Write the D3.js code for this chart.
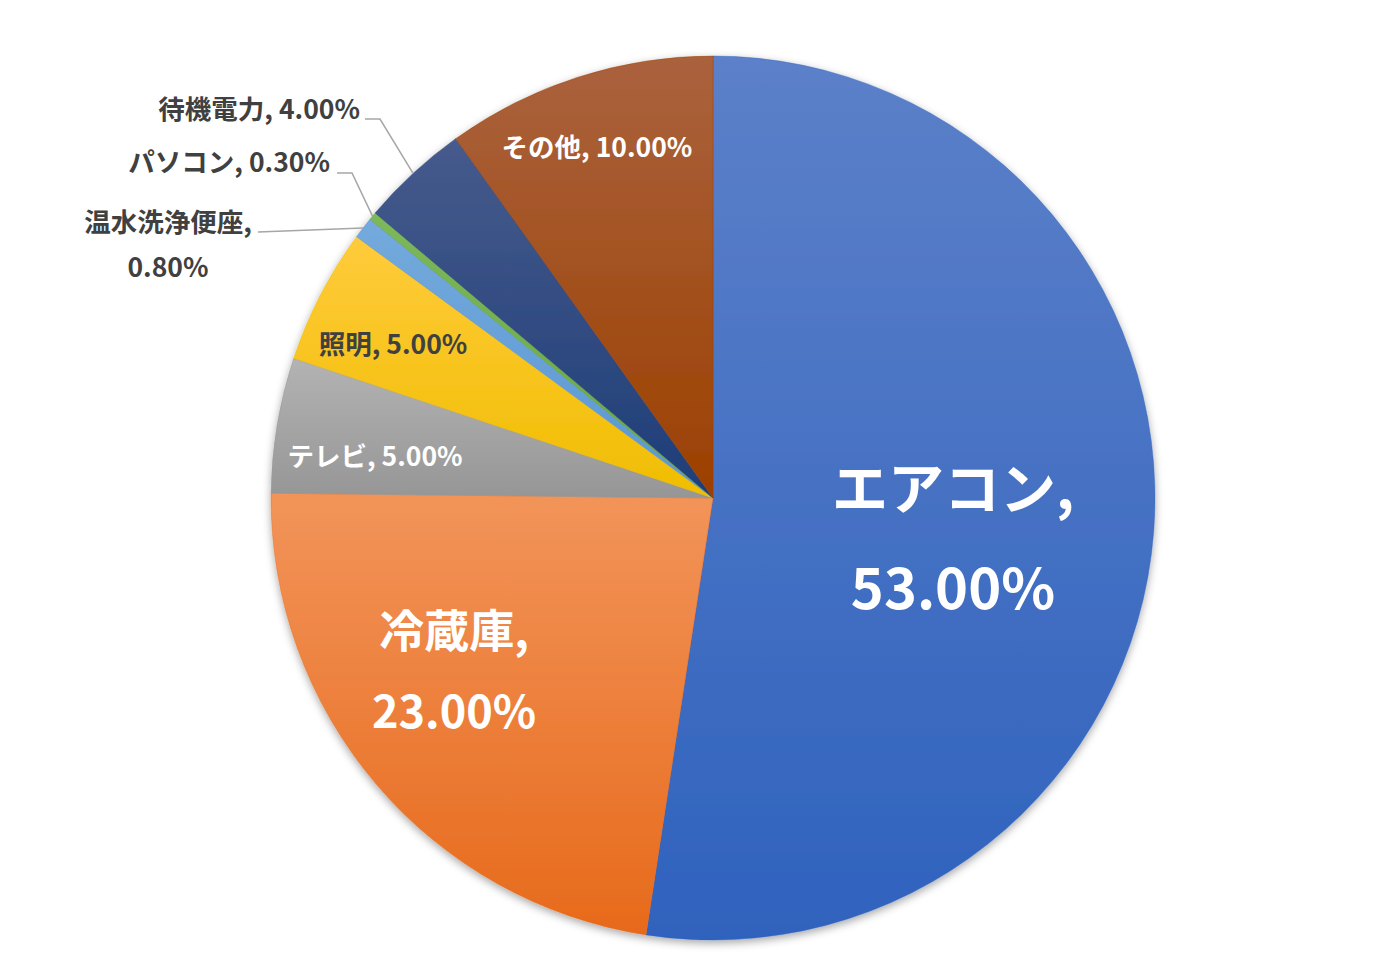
<!DOCTYPE html>
<html>
<head>
<meta charset="utf-8">
<script src="https://cdn.jsdelivr.net/npm/d3@7"></script>
<style>
  html, body { margin: 0; padding: 0; background: #fff; }
  text { font-family: "Noto Sans CJK JP", "Noto Sans", sans-serif; font-weight: 700; }
</style>
</head>
<body>
<div id="chart"></div>
<script>
// data, clockwise from 12 o'clock
const categories = ["エアコン", "冷蔵庫", "テレビ", "照明", "温水洗浄便座", "パソコン", "待機電力", "その他"];
const shares = [53.0, 23.0, 5.0, 5.0, 0.8, 0.3, 4.0, 10.0];
const colorsTop = ["#5c80c9", "#f2945a", "#b3b3b3", "#ffcb3c", "#74aadd", "#7cb85b", "#465b8c", "#aa623e"];
const colorsBottom = ["#2f62bd", "#e76a1b", "#969696", "#f0bd00", "#5a97d1", "#68a543", "#1e3d78", "#9c4000"];

const width = 1400, height = 972;
const cx = 713, cy = 498, r = 442;

// label layout: inside labels centred, outside labels right-aligned with leader
const labelLayout = [
  { x: 953, y: 484, lines: 2, size: 56, gap: 100, color: "#fff", anchor: "middle" },
  { x: 454, y: 628, lines: 2, size: 45, gap: 80, color: "#fff", anchor: "middle" },
  { x: 375, y: 454, lines: 1, size: 26.5, color: "#fff", anchor: "middle" },
  { x: 393, y: 342, lines: 1, size: 26.5, color: "#404040", anchor: "middle" },
  { x: 168, y: 220, lines: 2, size: 26.5, gap: 45, color: "#404040", anchor: "middle", outside: true, lineX: 258, lineY: 232 },
  { x: 330, y: 160, lines: 1, size: 26.5, color: "#404040", anchor: "end", outside: true, lineX: 337, lineY: 173, elbow: 352 },
  { x: 360, y: 107, lines: 1, size: 26.5, color: "#404040", anchor: "end", outside: true, lineX: 365, lineY: 119, elbow: 380 },
  { x: 597, y: 145, lines: 1, size: 26.5, color: "#fff", anchor: "middle" }
];

const data = categories.map((c, i) => ({ name: c, value: shares[i], i: i }));

const svg = d3.select("#chart")
  .append("svg")
  .attr("width", width)
  .attr("height", height);

const defs = svg.append("defs");

defs.append("filter")
  .attr("id", "shadow")
  .attr("x", "-10%").attr("y", "-10%")
  .attr("width", "120%").attr("height", "120%")
  .append("feDropShadow")
  .attr("dx", 0).attr("dy", 3)
  .attr("stdDeviation", 4)
  .attr("flood-color", "#000")
  .attr("flood-opacity", 0.35);

data.forEach(d => {
  const g = defs.append("linearGradient")
    .attr("id", "grad" + d.i)
    .attr("x1", 0).attr("y1", 0).attr("x2", 0).attr("y2", 1);
  g.append("stop").attr("offset", "0%").attr("stop-color", colorsTop[d.i]);
  g.append("stop").attr("offset", "100%").attr("stop-color", colorsBottom[d.i]);
});

const pie = d3.pie().value(d => d.value).sort(null);
const arc = d3.arc().innerRadius(0).outerRadius(r);
const arcs = pie(data);

const chart = svg.append("g")
  .attr("transform", `translate(${cx},${cy})`);

chart.append("g")
  .attr("filter", "url(#shadow)")
  .selectAll("path")
  .data(arcs)
  .enter().append("path")
  .attr("d", arc)
  .attr("fill", d => `url(#grad${d.data.i})`)
  .attr("stroke", d => colorsBottom[d.data.i])
  .attr("stroke-width", 0.4);

// leader lines for small slices
const edge = d3.arc().innerRadius(r).outerRadius(r);
arcs.forEach(d => {
  const L = labelLayout[d.data.i];
  if (!L.outside) return;
  const p = edge.centroid(d);
  const pts = [[L.lineX, L.lineY]];
  if (L.elbow) pts.push([L.elbow, L.lineY]);
  pts.push([p[0] + cx, p[1] + cy]);
  svg.append("path")
    .attr("d", d3.line()(pts))
    .attr("fill", "none")
    .attr("stroke", "#a6a6a6")
    .attr("stroke-width", 1.5);
});

// labels
arcs.forEach(d => {
  const L = labelLayout[d.data.i];
  const pct = d.data.value.toFixed(2) + "%";
  const t = svg.append("text")
    .attr("x", L.x)
    .attr("y", L.y)
    .attr("text-anchor", L.anchor)
    .attr("dominant-baseline", "central")
    .attr("fill", L.color)
    .attr("font-size", L.size);
  if (L.lines === 2) {
    t.append("tspan").attr("x", L.x).attr("y", L.y).text(d.data.name + ",");
    t.append("tspan").attr("x", L.x).attr("y", L.y + L.gap).text(pct);
  } else {
    t.text(d.data.name + ", " + pct);
  }
});
</script>
</body>
</html>
